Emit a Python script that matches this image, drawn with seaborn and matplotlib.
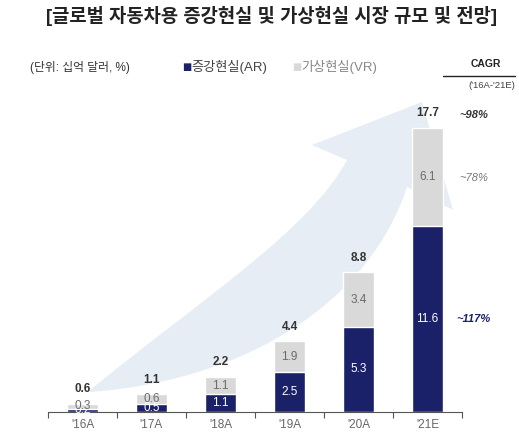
import matplotlib
matplotlib.use("Agg")
import matplotlib.pyplot as plt
from matplotlib.path import Path
from matplotlib.patches import PathPatch
import seaborn as sns

# data
years = ["'16A", "'17A", "'18A", "'19A", "'20A", "'21E"]
ar = [0.2, 0.5, 1.1, 2.5, 5.3, 11.6]
vr = [0.3, 0.6, 1.1, 1.9, 3.4, 6.1]
totals = ["0.6", "1.1", "2.2", "4.4", "8.8", "17.7"]
cagr_labels = ["~98%", "~78%", "~117%"]
cagr_levels = [18.5, 14.6, 5.8]

navy = "#1b2168"
grey = "#d9d9d9"

sns.set_theme(style="white")
plt.rcParams["font.family"] = ["Liberation Sans", "Noto Sans CJK KR"]

W, H = 519, 444
fig = plt.figure(figsize=(W / 100, H / 100), dpi=100)

# background arrow (decorative), drawn in pixel coords
bg = fig.add_axes([0, 0, 1, 1], zorder=0)
bg.set_xlim(0, W)
bg.set_ylim(H, 0)
bg.axis("off")
verts = [(90, 392), (250, 380), (370, 300), (407, 187),
         (453, 210), (422, 102), (312, 145), (347, 160),
         (310, 230), (200, 300), (90, 390), (90, 392)]
codes = [Path.MOVETO, Path.CURVE4, Path.CURVE4, Path.CURVE4,
         Path.LINETO, Path.LINETO, Path.LINETO, Path.LINETO,
         Path.CURVE4, Path.CURVE4, Path.CURVE4, Path.CLOSEPOLY]
bg.add_patch(PathPatch(Path(verts, codes), facecolor="#e7edf5", edgecolor="none"))

# main axes
left, right = 48 / W, 462 / W
base = 412
ax = fig.add_axes([left, (H - base) / H, right - left, 321 / H], zorder=1)
ax.patch.set_alpha(0)

stack = [a + v for a, v in zip(ar, vr)]
sns.barplot(x=years, y=stack, color=grey, width=0.45, saturation=1, ax=ax)
sns.barplot(x=years, y=ar, color=navy, width=0.45, saturation=1, ax=ax)

ax.set_xlim(-0.5, 5.5)
ax.set_ylim(0, 20)
for i in range(len(years)):
    ax.text(i, ar[i] / 2, f"{ar[i]:.1f}", ha="center", va="center", color="white", fontsize=8.5)
    ax.text(i, ar[i] + vr[i] / 2, f"{vr[i]:.1f}", ha="center", va="center", color="#6b6b6b", fontsize=8.5)
    ax.text(i, stack[i] + 0.55, totals[i], ha="center", va="bottom", color="#333333",
            fontsize=8.5, fontweight="bold")

cagr_colors = ["#333333", "#777777", navy]
cagr_weights = ["bold", "normal", "bold"]
for lab, lev, c, w in zip(cagr_labels, cagr_levels, cagr_colors, cagr_weights):
    ax.text(5.67, lev, lab, ha="center", va="center", color=c, fontsize=8,
            fontweight=w, fontstyle="italic", clip_on=False)

sns.despine(ax=ax, left=True)
ax.spines["bottom"].set_color("#555555")
ax.spines["bottom"].set_linewidth(0.8)
ax.set_yticks([])
ax.set_xticks(range(len(years)))
ax.set_xticklabels(years, color="#666666", fontsize=8.5)
ax.set_xticks([x - 0.5 for x in range(len(years) + 1)], minor=True)
ax.tick_params(axis="x", which="major", length=0, pad=5)
ax.tick_params(axis="x", which="minor", length=4, width=0.8, color="#555555", bottom=True)
ax.set_xlabel("")
ax.set_ylabel("")

# title, unit, legend, CAGR header
fig.text(272 / W, 1 - 16 / H, "[글로벌 자동차용 증강현실 및 가상현실 시장 규모 및 전망]",
         ha="center", va="center", fontsize=13.5, fontweight="bold", color="#222222")
fig.text(30 / W, 1 - 67 / H, "(단위: 십억 달러, %)", ha="left", va="center",
         fontsize=8.5, color="#333333")
fig.text(182 / W, 1 - 67 / H, "■", ha="left", va="center", fontsize=7,
         color=navy, family="DejaVu Sans")
fig.text(191 / W, 1 - 67 / H, "증강현실(AR)", ha="left", va="center", fontsize=9.5, color="#444444")
fig.text(292 / W, 1 - 67 / H, "■", ha="left", va="center", fontsize=7,
         color=grey, family="DejaVu Sans")
fig.text(301 / W, 1 - 67 / H, "가상현실(VR)", ha="left", va="center", fontsize=9.5, color="#888888")
fig.text(486 / W, 1 - 64 / H, "CAGR", ha="center", va="center", fontsize=7.5,
         fontweight="bold", color="#222222")
fig.add_artist(plt.Line2D([443 / W, 515 / W], [1 - 76 / H, 1 - 76 / H],
                          transform=fig.transFigure, color="#222222", lw=1))
fig.text(492 / W, 1 - 86 / H, "('16A-'21E)", ha="center", va="center", fontsize=6.8, color="#444444")

fig.savefig("out.png", dpi=100, facecolor="white")
